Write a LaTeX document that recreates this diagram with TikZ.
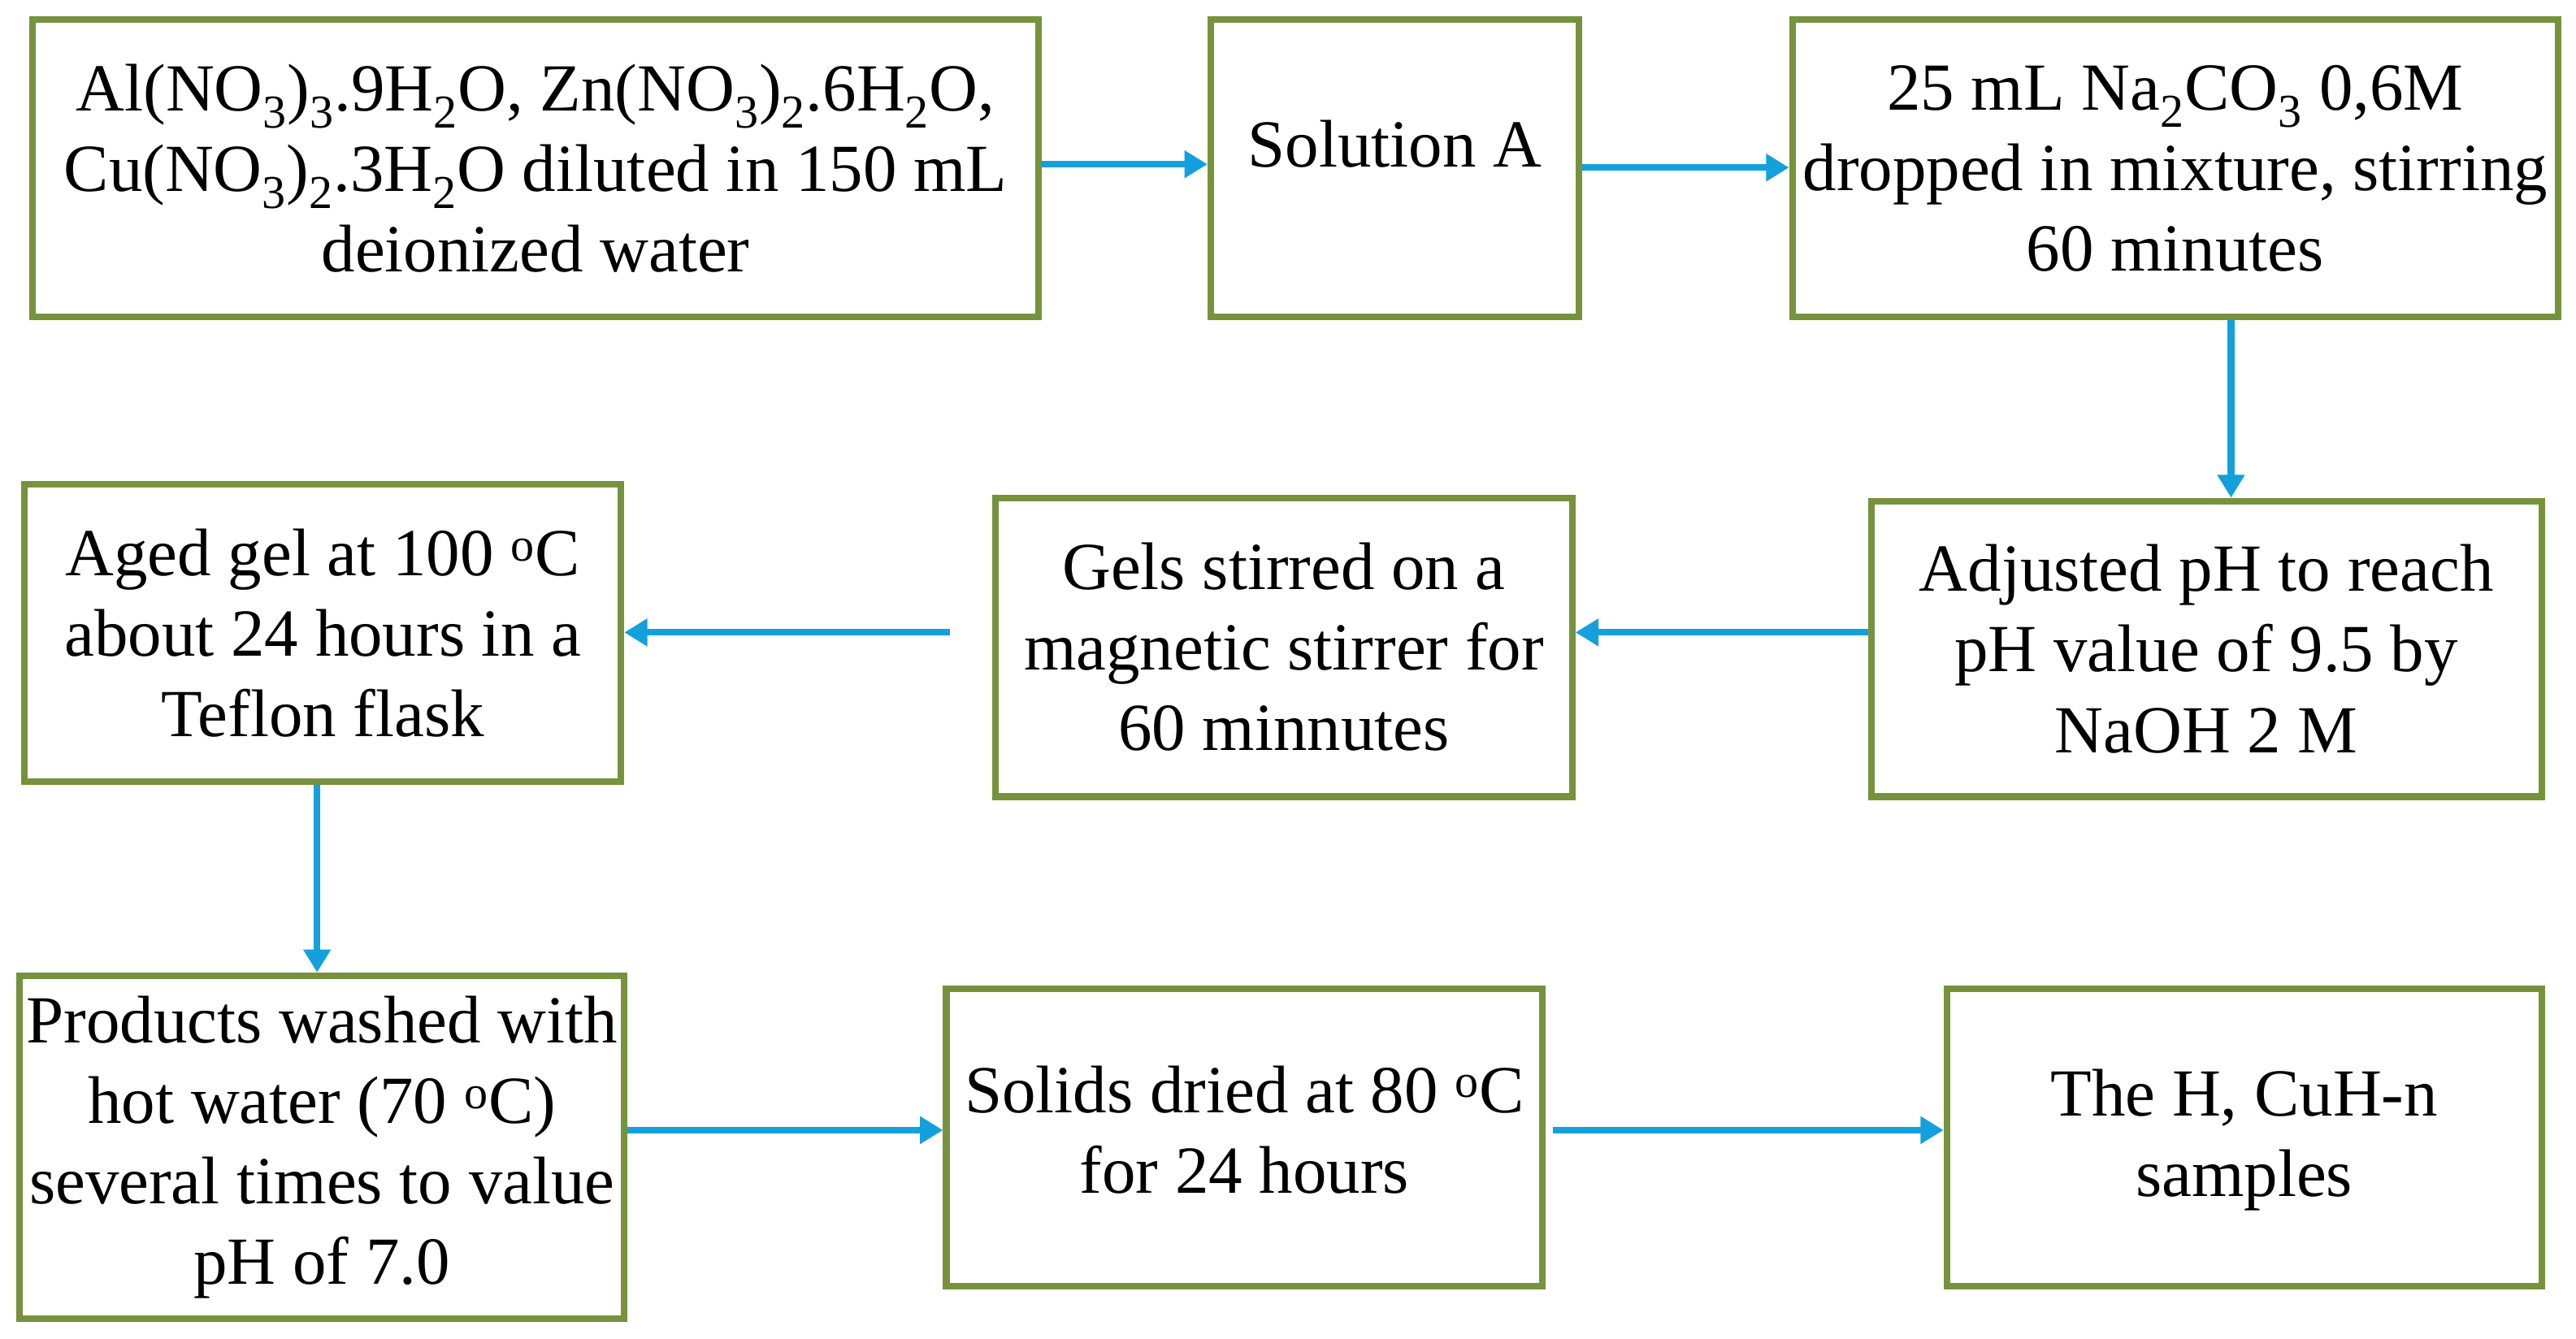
\documentclass[tikz,border=0pt]{standalone}
\usepackage{fontspec}
\setmainfont{Liberation Serif}
\usetikzlibrary{arrows.meta}
\definecolor{bx}{RGB}{118,146,60}
\definecolor{ar}{RGB}{20,160,220}
\newcommand{\sbs}[1]{\textsubscript{#1}}
\newcommand{\spo}{\textsuperscript{o}}
\begin{document}
\begin{tikzpicture}[x=1pt,y=-1pt,
 bx/.style={draw=bx,line width=4pt,align=center,inner sep=0pt,font=\fontsize{41}{49}\selectfont},
 ar/.style={draw=ar,line width=4pt,-{Triangle[length=14pt,width=16pt]}}]
\useasboundingbox (0,0) rectangle (1568,815);
\newcommand{\bxn}[6]{\node[bx,minimum width={#4-#2},minimum height={#5-#3}] (#1) at ({(#2+#4)/2},{(#3+#5)/2}) {#6};}
\bxn{b1}{20}{12}{632}{193}{Al(NO\sbs{3})\sbs{3}.9H\sbs{2}O, Zn(NO\sbs{3})\sbs{2}.6H\sbs{2}O,\\Cu(NO\sbs{3})\sbs{2}.3H\sbs{2}O diluted in 150 mL\\deionized water}
\node[bx,minimum width=224pt,minimum height=181pt,text depth=30pt] (b2) at (849,102.5) {Solution A};
\bxn{b3}{1091}{12}{1557}{193}{25 mL Na\sbs{2}CO\sbs{3} 0,6M\\dropped in mixture, stirring\\60 minutes}
\bxn{b4}{1139}{305}{1547}{485}{Adjusted pH to reach\\pH value of 9.5 by\\NaOH 2 M}
\bxn{b5}{606}{303}{957}{485}{Gels stirred on a\\magnetic stirrer for\\60 minnutes}
\bxn{b6}{15}{295}{378}{476}{Aged gel at 100 \spo C\\about 24 hours in a\\Teflon flask}
\bxn{b7}{12}{594}{380}{803}{Products washed with\\hot water (70 \spo C)\\several times to value\\pH of 7.0}
\node[bx,minimum width=363pt,minimum height=181pt,text depth=10pt] (b8) at (757.5,692.5) {Solids dried at 80 \spo C\\for 24 hours};
\node[bx,minimum width=362pt,minimum height=181pt,text depth=6pt] (b9) at (1366,692.5) {The H, CuH-n\\samples};
\coordinate (g5) at (578,385);
\coordinate (g8) at (945,688);
\draw[ar] (b1.east|-0,100) -- (b2.west|-0,100);
\draw[ar] (b2.east|-0,102) -- (b3.west|-0,102);
\draw[ar] (b3.south-|1358,0) -- (b4.north-|1358,0);
\draw[ar] (b4.west|-0,385) -- (b5.east|-0,385);
\draw[ar] (g5) -- (b6.east|-0,385);
\draw[ar] (b6.south-|193,0) -- (b7.north-|193,0);
\draw[ar] (b7.east|-0,688) -- (b8.west|-0,688);
\draw[ar] (g8) -- (b9.west|-0,688);
\end{tikzpicture}
\end{document}
